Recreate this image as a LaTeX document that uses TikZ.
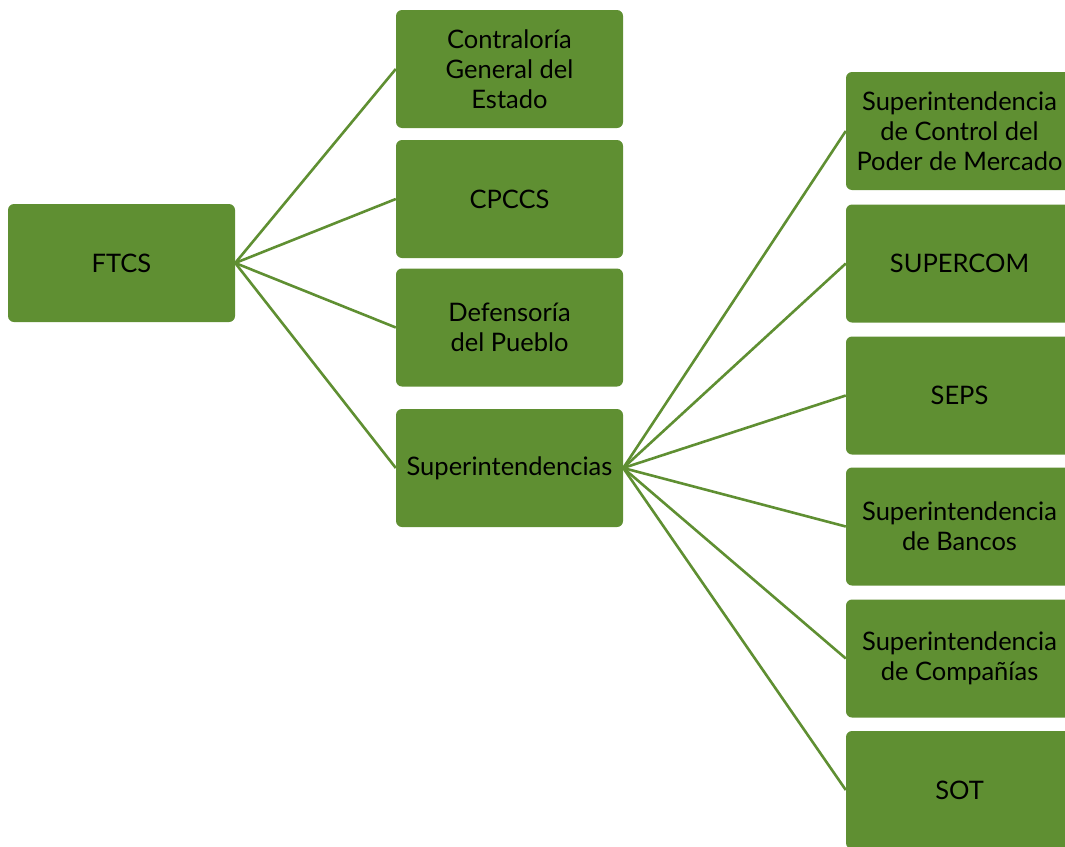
\documentclass[tikz,border=0pt]{standalone}
\usepackage{fontspec}
\setmainfont{Lato}
\usepackage{tikz}
\usetikzlibrary{positioning}
\definecolor{boxgreen}{HTML}{5F8F32}

\begin{document}
\begin{tikzpicture}[x=1pt, y=-1pt,
  box/.style={fill=boxgreen, rounded corners=6pt, minimum width=227pt, minimum height=118pt,
    align=center, text=black, inner sep=2pt, font=\fontsize{25.5}{30}\selectfont},
  link/.style={draw=boxgreen, line width=2.6pt}]
  \useasboundingbox (0,0) rectangle (1065,846);
  % left
  \node[box] (ftcs) at (121.5,263) {FTCS};
  % middle column
  \node[box] (cge) at (509.5,69) {Contraloría\\General del\\Estado};
  \node[box] (cpccs) at (509.5,199) {CPCCS};
  \node[box] (dp) at (509.5,327.5) {Defensoría\\del Pueblo};
  \node[box] (sup) at (509.5,468) {Superintendencias};
  % right column
  \node[box] (scpm) at (959.5,131) {Superintendencia\\de Control del\\Poder de Mercado};
  \node[box] (supercom) at (959.5,263.5) {SUPERCOM};
  \node[box] (seps) at (959.5,395.5) {SEPS};
  \node[box] (sb) at (959.5,526.5) {Superintendencia\\de Bancos};
  \node[box] (sc) at (959.5,658.5) {Superintendencia\\de Compañías};
  \node[box] (sot) at (959.5,790) {SOT};
  % connectors
  \foreach \n in {cge,cpccs,dp,sup}
    \draw[link] (ftcs.east) -- (\n.west);
  \foreach \n in {scpm,supercom,seps,sb,sc,sot}
    \draw[link] (sup.east) -- (\n.west);
\end{tikzpicture}
\end{document}
